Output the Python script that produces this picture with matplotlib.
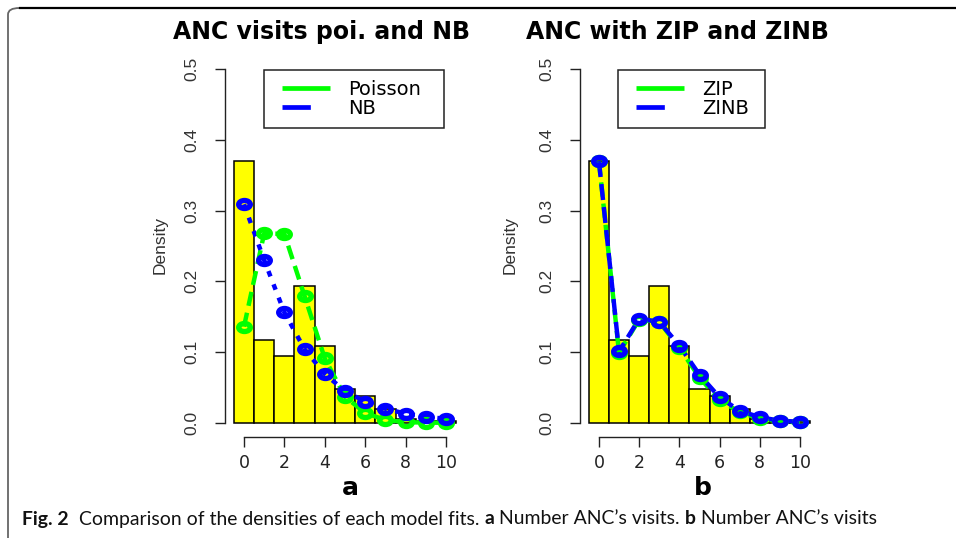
import numpy as np
import matplotlib
matplotlib.use("Agg")
import matplotlib.pyplot as plt
from matplotlib.path import Path
from matplotlib.transforms import Affine2D
from matplotlib.patches import FancyBboxPatch, Rectangle
from matplotlib.lines import Line2D

# ---- data -------------------------------------------------------------
visits = np.arange(0, 11)
hist_density = [0.370, 0.117, 0.094, 0.193, 0.109, 0.048, 0.038, 0.019, 0.005, 0.002, 0.002]
poisson_fit = [0.136, 0.268, 0.267, 0.179, 0.091, 0.037, 0.014, 0.004, 0.001, 0.0003, 0.0001]
nb_fit = [0.309, 0.230, 0.156, 0.104, 0.069, 0.045, 0.030, 0.020, 0.013, 0.0085, 0.0057]
zip_fit = [0.370, 0.099, 0.146, 0.143, 0.106, 0.064, 0.032, 0.015, 0.006, 0.002, 0.0006]
zinb_fit = [0.370, 0.101, 0.147, 0.143, 0.109, 0.068, 0.036, 0.017, 0.008, 0.003, 0.0015]

x_ticks = [0, 2, 4, 6, 8, 10]
y_ticks = [0.0, 0.1, 0.2, 0.3, 0.4, 0.5]
y_tick_labels = ["0.0", "0.1", "0.2", "0.3", "0.4", "0.5"]

titles = ["ANC visits poi. and NB", "ANC with ZIP and ZINB"]
legend_labels = [["Poisson", "NB"], ["ZIP", "ZINB"]]
panel_letters = ["a", "b"]

W, H = 956, 538
fig = plt.figure(figsize=(W / 100, H / 100), dpi=100)
fig.patch.set_facecolor("white")

GREEN = "#00FF00"
BLUE = "#0000FF"
YELLOW = "#FFFF00"
INK = "#222222"

# slightly wide ring marker
ring = Path.unit_circle().transformed(Affine2D().scale(1.45, 1.0))


def px_rect(l, r, t, b):
    return [l / W, 1 - b / H, (r - l) / W, (b - t) / H]


def draw_panel(rect, series, dashes, labels, title, title_x, letter, leg_box, leg_handle):
    ax = fig.add_axes(rect)
    ax.set_xlim(-0.94, 10.94)
    ax.set_ylim(-0.02, 0.52)
    ax.bar(visits, hist_density, width=1.0, color=YELLOW, edgecolor="black",
           linewidth=1.1, zorder=2)
    handles = []
    for (vals, col), ds in zip(series, dashes):
        ax.plot(visits, vals, color=col, lw=3.2, dashes=ds, zorder=3,
                solid_capstyle="butt", dash_capstyle="butt")
        ax.plot(visits, vals, ls="none", marker=ring, markersize=8.4,
                markerfacecolor="none", markeredgecolor=col,
                markeredgewidth=3.8, zorder=4)
        handles.append(Line2D([], [], color=col, lw=3.4, dashes=leg_handle[col],
                              dash_capstyle="butt"))
    for s in ["top", "right"]:
        ax.spines[s].set_visible(False)
    ax.spines["left"].set_bounds(0, 0.5)
    ax.spines["bottom"].set_bounds(0, 10)
    for s in ["left", "bottom"]:
        ax.spines[s].set_linewidth(1.0)
        ax.spines[s].set_color(INK)
    ax.set_xticks(x_ticks)
    ax.set_xticklabels([str(t) for t in x_ticks], fontsize=12.5,
                       family="DejaVu Sans", color=INK)
    ax.set_yticks(y_ticks)
    ax.set_yticklabels(y_tick_labels, fontsize=12.5, family="Liberation Sans",
                       rotation=90, va="center", color="#333333")
    ax.tick_params(axis="both", direction="out", length=7.5, width=1.0, color=INK)
    ax.tick_params(axis="x", pad=5)
    ax.tick_params(axis="y", pad=11)
    ax.set_ylabel("Density", fontsize=12.5, family="Liberation Sans", color="#333333")
    ax.yaxis.label.set_va("center")
    ax.set_xlabel(letter, fontsize=18, fontweight="bold", family="DejaVu Sans")
    ax.xaxis.label.set_va("center")
    ax.set_title(title, fontsize=17, fontweight="bold", family="DejaVu Sans",
                 x=title_x, y=1.060, pad=0, va="center", ha="center")

    # legend: box drawn as a rectangle, entries placed inside it
    l, r, t, b = leg_box
    ax.add_artist(Rectangle((l / W, 1 - b / H), (r - l) / W, (b - t) / H,
                            transform=fig.transFigure, facecolor="white",
                            edgecolor=INK, linewidth=1.1, zorder=5,
                            clip_on=False))
    leg = ax.legend(handles, labels, loc="upper left",
                    bbox_to_anchor=((l + 18) / W, 1 - (t + 10) / H),
                    bbox_transform=fig.transFigure,
                    prop={"family": "DejaVu Sans", "size": 14},
                    frameon=False, borderpad=0, handlelength=2.45,
                    handletextpad=0.95, labelspacing=0.0, borderaxespad=0)
    leg.set_zorder(6)
    return ax


# left panel: Poisson and NB
axL = draw_panel(px_rect(225, 465, 55, 437),
                 [(poisson_fit, GREEN), (nb_fit, BLUE)],
                 [(3.2, 1.6), (1.3, 1.9)],
                 legend_labels[0], titles[0], 0.404, panel_letters[0],
                 (264, 444, 70, 128), {GREEN: (20, 1), BLUE: (6, 6)})
axL.yaxis.set_label_coords(-0.27, 0.503)
axL.xaxis.set_label_coords(0.521, -0.134)

# right panel: ZIP and ZINB
axR = draw_panel(px_rect(580, 819, 55, 437),
                 [(zip_fit, GREEN), (zinb_fit, BLUE)],
                 [(3.2, 1.6), (3.6, 1.6)],
                 legend_labels[1], titles[1], 0.406, panel_letters[1],
                 (618, 765, 70, 128), {GREEN: (20, 1), BLUE: (6, 6)})
axR.yaxis.set_label_coords(-0.293, 0.503)
axR.xaxis.set_label_coords(0.515, -0.134)

# figure frame: rounded left/top border
frame = FancyBboxPatch((8 / W, -20 / H), 1.2, (H - 8 + 20) / H,
                       boxstyle="round,pad=0,rounding_size=0.012",
                       transform=fig.transFigure, facecolor="none",
                       edgecolor="#666666", linewidth=1.3, clip_on=False)
fig.add_artist(frame)
fig.add_artist(Line2D([20 / W, 1.0], [1 - 8 / H, 1 - 8 / H],
                      transform=fig.transFigure, color="black", lw=1.6))

# caption, laid out piece by piece
pieces = [("Fig. 2", "bold"), ("  Comparison of the densities of each model fits. ", "normal"),
          ("a", "bold"), (" Number ANC\u2019s visits. ", "normal"),
          ("b", "bold"), (" Number ANC\u2019s visits", "normal")]
renderer = fig.canvas.get_renderer()
cap_family = "Lato"


def caption_width(size):
    total = 0
    for txt, wt in pieces:
        t = fig.text(0, 0, txt, fontsize=size, fontweight=wt, family=cap_family)
        total += t.get_window_extent(renderer).width
        t.remove()
    return total


size = 12.0
size *= (873 - 22) / caption_width(size)
xpos = 22
for txt, wt in pieces:
    t = fig.text(xpos / W, 1 - 519 / H, txt, fontsize=size, fontweight=wt,
                 family=cap_family, va="center", ha="left", color="#111111")
    xpos += t.get_window_extent(renderer).width

fig.savefig("out.png", dpi=100, facecolor="white")
